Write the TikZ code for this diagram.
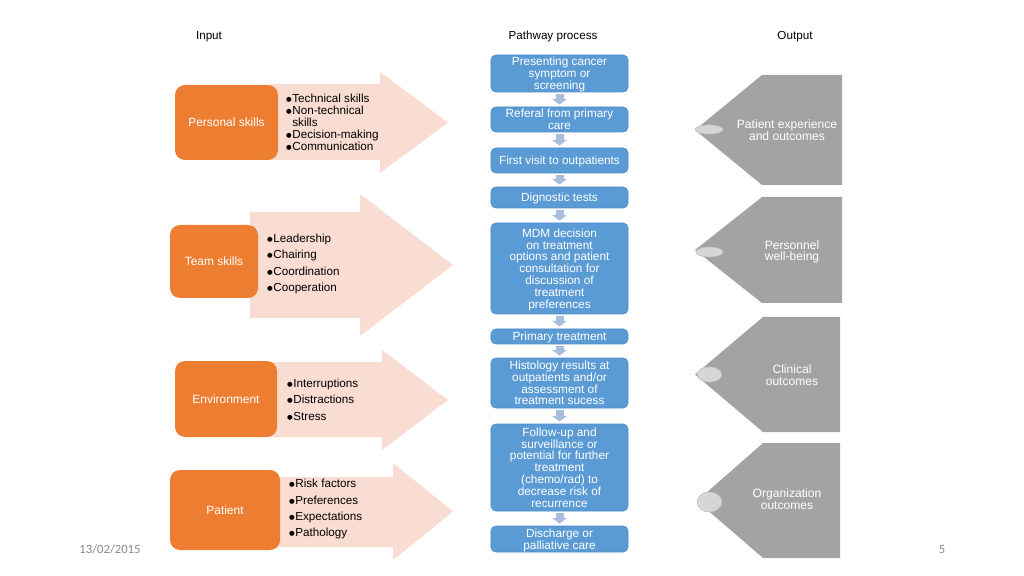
\documentclass[tikz,border=0pt]{standalone}
\usepackage{fontspec}
\setmainfont{Liberation Sans}
\newfontfamily\footfont{Carlito}
\newfontfamily\dejavu{DejaVu Sans}
\usetikzlibrary{arrows.meta}
\definecolor{orng}{HTML}{ED7D31}
\definecolor{pinkar}{HTML}{F9DDD2}
\definecolor{blu}{HTML}{5B9BD5}
\definecolor{bluedge}{HTML}{4E8AC6}
\definecolor{sarr}{HTML}{A9BEDC}
\definecolor{gryshape}{HTML}{A3A3A3}
\definecolor{ellfill}{HTML}{D6D6D6}
\definecolor{elledge}{HTML}{BDBDBD}
\definecolor{footgray}{HTML}{898989}
\newcommand\bul{\raisebox{0.7pt}{\dejavu\fontsize{4.6}{5}\selectfont ●}\hspace{0.5pt}}
\newcommand\nobul{\phantom{\bul}}
\begin{document}
\begin{tikzpicture}[x=0.025cm,y=-0.025cm,
  every node/.style={inner sep=0pt, outer sep=0pt},
  hdr/.style={font=\fontsize{8.3}{9}\selectfont, text=black},
  obox/.style 2 args={fill=orng, rounded corners=0.25cm, text=white,
    font=\fontsize{8.5}{9}\selectfont, minimum width=#1*0.025cm, minimum height=#2*0.025cm},
  bbox/.style={fill=blu, draw=bluedge, line width=0.4pt, rounded corners=0.12cm, text=white,
    align=center, font=\fontsize{8.4}{8.4}\selectfont, text depth=0pt,
    minimum width=3.425cm, minimum height=#1*0.025cm},
  lst/.style={align=left, text=black, anchor=west},
  pinkarrow/.style={fill=pinkar},
  gshape/.style={fill=gryshape},
  gtext/.style={text=white, align=center, font=\fontsize{8.6}{8.2}\selectfont},
  ell/.style={fill=ellfill, draw=elledge, line width=0.4pt},
  sarrow/.style={draw=sarr, line width=0.2cm, -{Triangle[width=0.36cm,length=0.14cm]},
    shorten <=0.06cm, shorten >=0.06cm},
  foot/.style={font=\footfont\fontsize{9}{10}\selectfont, text=footgray}
]
\useasboundingbox (0,0) rectangle (1024,576);
\fill[white] (0,0) rectangle (1024,576);

% headers
\node[hdr] (hin) at (209,36.5) {Input};
\node[hdr] (hpath) at (553,36.5) {Pathway process};
\node[hdr] (hout) at (795,36.5) {Output};

% pink arrows
\fill[pinkarrow] (270,84) -- (380,84) -- (380,72) -- (448,122.5) -- (380,173) -- (380,160) -- (270,160) -- cycle;
\fill[pinkarrow] (250,212) -- (360,212) -- (360,194) -- (453,265) -- (360,336) -- (360,318) -- (250,318) -- cycle;
\fill[pinkarrow] (270,362) -- (382,362) -- (382,350) -- (448,400) -- (382,450) -- (382,437) -- (270,437) -- cycle;
\fill[pinkarrow] (275,477) -- (393,477) -- (393,463) -- (453,511.5) -- (393,560) -- (393,547) -- (275,547) -- cycle;

% orange boxes
\node[obox={103}{75}] (personal) at (226.5,122.5) {Personal skills};
\node[obox={88}{73}] (team) at (214,261.5) {Team skills};
\node[obox={102}{76}] (env) at (226,399) {Environment};
\node[obox={110}{80}] (patient) at (225,510) {Patient};

% bullet lists
\node[lst, font=\fontsize{8.3}{8.5}\selectfont] (l1) at (286,122)
  {\bul Technical skills\\\bul Non-technical\\\nobul skills\\\bul Decision-making\\\bul Communication};
\node[lst, font=\fontsize{8.3}{11.6}\selectfont] (l2) at (267,264)
  {\bul Leadership\\\bul Chairing\\\bul Coordination\\\bul Cooperation};
\node[lst, font=\fontsize{8.3}{11.7}\selectfont] (l3) at (287,399.5)
  {\bul Interruptions\\\bul Distractions\\\bul Stress};
\node[lst, font=\fontsize{8.3}{11.4}\selectfont] (l4) at (289,509)
  {\bul Risk factors\\\bul Preferences\\\bul Expectations\\\bul Pathology};

% pathway boxes
\node[bbox=37] (b1) at (559.5,73.5) {Presenting cancer\\symptom or\\screening};
\node[bbox=25] (b2) at (559.5,119.5) {Referal from primary\\care};
\node[bbox=25] (b3) at (559.5,160.5) {First visit to outpatients};
\node[bbox=21] (b4) at (559.5,197.5) {Dignostic tests};
\node[bbox=91] (b5) at (559.5,268.5) {MDM decision\\on treatment\\options and patient\\consultation for\\discussion of\\treatment\\preferences};
\node[bbox=15] (b6) at (559.5,336.5) {Primary treatment};
\node[bbox=50] (b7) at (559.5,383) {Histology results at\\outpatients and/or\\assessment of\\treatment sucess};
\node[bbox=87] (b8) at (559.5,467.5) {Follow-up and\\surveillance or\\potential for further\\treatment\\(chemo/rad) to\\decrease risk of\\recurrence};
\node[bbox=26] (b9) at (559.5,539) {Discharge or\\palliative care};

\draw[sarrow] (b1) -- (b2);
\draw[sarrow] (b2) -- (b3);
\draw[sarrow] (b3) -- (b4);
\draw[sarrow] (b4) -- (b5);
\draw[sarrow] (b5) -- (b6);
\draw[sarrow] (b6) -- (b7);
\draw[sarrow] (b7) -- (b8);
\draw[sarrow] (b8) -- (b9);

% output shapes
\fill[gshape] (762,75) -- (842,75) -- (842,185) -- (762,185) -- (695,130) -- cycle;
\fill[gshape] (762,197) -- (842,197) -- (842,303) -- (762,303) -- (695,250) -- cycle;
\fill[gshape] (763,317) -- (840,317) -- (840,432) -- (763,432) -- (695,374.5) -- cycle;
\fill[gshape] (763,443) -- (840,443) -- (840,558) -- (763,558) -- (697,501) -- cycle;

\draw[ell] (709,129.5) ellipse [x radius=0.35cm, y radius=0.115cm];
\draw[ell] (709.5,252) ellipse [x radius=0.34cm, y radius=0.125cm];
\draw[ell] (709.5,374.5) ellipse [x radius=0.31cm, y radius=0.19cm];
\draw[ell] (709.5,502) ellipse [x radius=0.31cm, y radius=0.25cm];

\node[gtext] (o1) at (787,130) {Patient experience\\and outcomes};
\node[gtext] (o2) at (792,252) {Personnel\\well-being};
\node[gtext] (o3) at (792,375) {Clinical\\outcomes};
\node[gtext] (o4) at (787,499) {Organization\\outcomes};

% footer
\node[foot] (date) at (110,549) {13/02/2015};
\node[foot] (pg) at (942,549) {5};
\end{tikzpicture}
\end{document}
